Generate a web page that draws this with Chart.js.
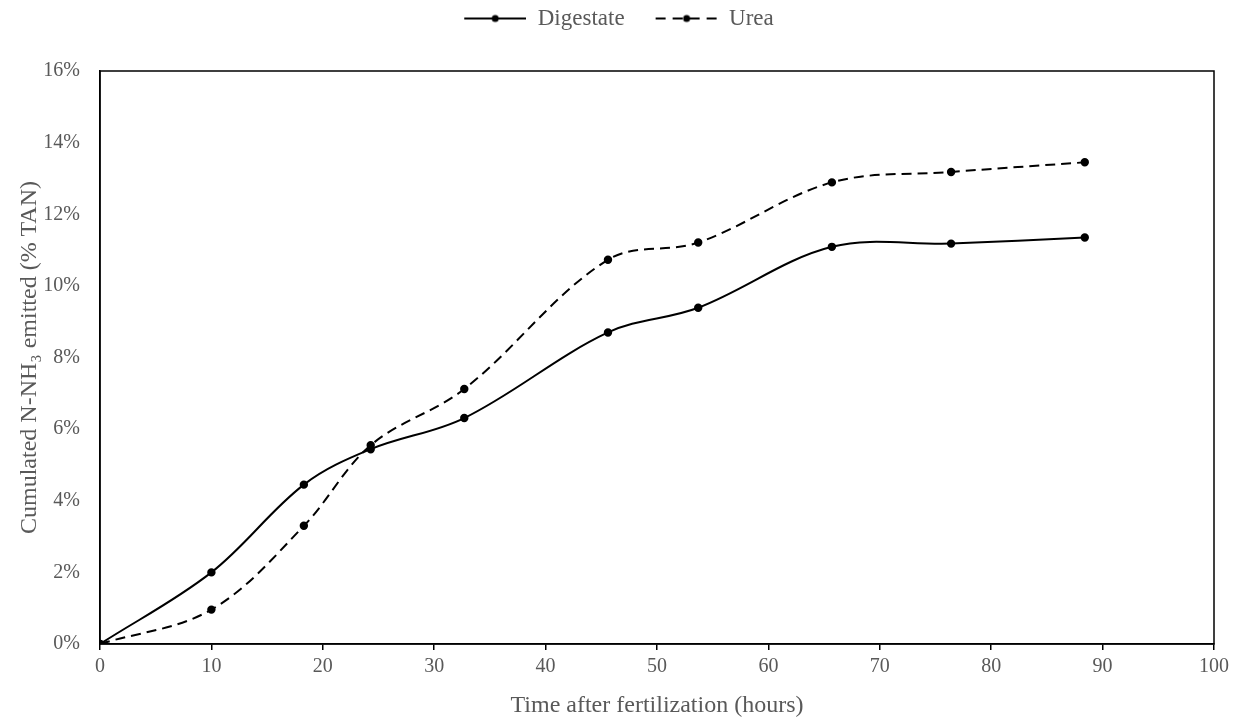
<!DOCTYPE html>
<html>
<head>
<meta charset="utf-8">
<script src="https://cdn.jsdelivr.net/npm/chart.js@4/dist/chart.umd.min.js"></script>
<style>
  html, body { margin: 0; padding: 0; background: #fff; }
  #wrap { width: 1244px; height: 724px; }
</style>
</head>
<body>
<div id="wrap"><canvas id="chart" width="1244" height="724"></canvas></div>
<script>
// hours after fertilization
const hours = [0, 10, 18.3, 24.3, 32.7, 45.6, 53.7, 65.7, 76.4, 88.4];
// cumulated N-NH3 emitted, % of TAN
const digestate = [0, 2.0, 4.45, 5.44, 6.31, 8.70, 9.39, 11.09, 11.18, 11.35];
const urea = [0, 0.96, 3.30, 5.55, 7.12, 10.73, 11.21, 12.89, 13.18, 13.45];

const xTicks = [0, 10, 20, 30, 40, 50, 60, 70, 80, 90, 100];
const yTicks = [0, 2, 4, 6, 8, 10, 12, 14, 16];

const textColor = '#595959';
const fontFamily = '"Liberation Serif", "Times New Roman", serif';

Chart.defaults.font.family = fontFamily;
Chart.defaults.color = textColor;

function toPoints(xs, ys) {
    return xs.map((x, i) => ({ x: x, y: ys[i] }));
}

// legend symbol: blank lead-in (spacing between items), then line with a dot
const SYM_LEAD = 24;
const SYM_LINE = 62;
function legendSymbol(dashed) {
    const c = document.createElement('canvas');
    c.width = SYM_LEAD + SYM_LINE;
    c.height = 10;
    const g = c.getContext('2d');
    g.strokeStyle = '#000';
    g.lineWidth = 2.2;
    if (dashed) g.setLineDash([10, 7]);
    g.beginPath();
    g.moveTo(SYM_LEAD, 5);
    g.lineTo(SYM_LEAD + SYM_LINE, 5);
    g.stroke();
    g.setLineDash([]);
    g.fillStyle = '#000';
    g.beginPath();
    g.arc(SYM_LEAD + SYM_LINE / 2, 5, 3.5, 0, Math.PI * 2);
    g.fill();
    return c;
}

// full box around the plot area
const frame = {
    id: 'frame',
    afterDatasetsDraw(chart) {
        const a = chart.chartArea;
        const ctx = chart.ctx;
        ctx.save();
        ctx.strokeStyle = '#000';
        ctx.lineWidth = 1.5;
        ctx.strokeRect(a.left, a.top, a.right - a.left, a.bottom - a.top);
        ctx.restore();
    }
};

// keep the legend band a fixed height so the plot starts lower
const legendBand = {
    id: 'legendBand',
    beforeInit(chart) {
        const fit = chart.legend.fit;
        chart.legend.fit = function () {
            fit.call(this);
            this.height = 71;
        };
    }
};

const ctx = document.getElementById('chart').getContext('2d');
new Chart(ctx, {
    type: 'line',
    data: {
        datasets: [{
            label: 'Digestate',
            data: toPoints(hours, digestate),
            borderColor: '#000',
            backgroundColor: '#000',
            borderWidth: 2,
            pointRadius: 3.2,
            pointHoverRadius: 3.2,
            tension: 0.35,
            fill: false,
        }, {
            label: 'Urea',
            data: toPoints(hours, urea),
            borderColor: '#000',
            backgroundColor: '#000',
            borderWidth: 2,
            borderDash: [10, 6],
            pointRadius: 3.2,
            pointHoverRadius: 3.2,
            tension: 0.35,
            fill: false,
        }]
    },
    options: {
        responsive: false,
        animation: false,
        layout: { padding: { left: 0, right: 30, top: 0, bottom: 0 } },
        scales: {
            x: {
                type: 'linear',
                min: 0,
                max: 100,
                afterBuildTicks: (axis) => { axis.ticks = xTicks.map(v => ({ value: v })); },
                afterFit: (axis) => { axis.height = 80; },
                ticks: { color: textColor, font: { size: 20 }, padding: 5, maxRotation: 0 },
                grid: { drawOnChartArea: false, color: '#000', tickLength: 6, tickWidth: 1.5, lineWidth: 1.5 },
                border: { color: '#000', width: 1.5 },
                title: {
                    display: true,
                    text: 'Time after fertilization (hours)',
                    color: textColor,
                    font: { size: 24 },
                    padding: { top: 4, bottom: 4 }
                }
            },
            y: {
                min: 0,
                max: 16,
                afterBuildTicks: (axis) => { axis.ticks = yTicks.map(v => ({ value: v })); },
                afterFit: (axis) => { axis.width = 100; },
                ticks: { color: textColor, font: { size: 20 }, padding: 20, callback: (v) => v + '%' },
                grid: { drawOnChartArea: false, drawTicks: false },
                border: { color: '#000', width: 1.5 },
                title: {
                    display: true,
                    text: 'Cumulated N-NH\u2083 emitted (% TAN)',
                    color: textColor,
                    font: { size: 24 },
                    padding: { top: 15, bottom: 4 }
                }
            }
        },
        plugins: {
            legend: {
                position: 'top',
                labels: {
                    color: textColor,
                    font: { size: 23 },
                    usePointStyle: true,
                    pointStyleWidth: SYM_LEAD + SYM_LINE,
                    boxHeight: 10,
                    padding: 7,
                    generateLabels: (chart) => {
                        const items = Chart.defaults.plugins.legend.labels.generateLabels(chart);
                        items.forEach((it, i) => { it.pointStyle = legendSymbol(i === 1); });
                        return items;
                    }
                }
            },
            tooltip: { enabled: false }
        }
    },
    plugins: [frame, legendBand]
});
</script>
</body>
</html>
